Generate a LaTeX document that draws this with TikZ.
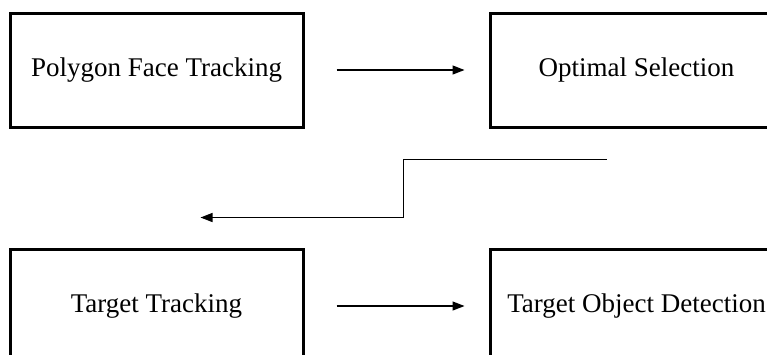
\documentclass[tikz,border=0pt]{standalone}
\usepackage{fontspec}
\setmainfont{Liberation Serif}
\usetikzlibrary{arrows.meta, positioning, calc}

\begin{document}
\begin{tikzpicture}[
    x=1pt, y=1pt,
    >={Triangle[length=12pt, width=9pt]},
    stagebox/.style={draw, line width=3pt, minimum width=293pt, minimum height=114pt,
        inner sep=0pt, font=\fontsize{27}{31}\selectfont},
    arrow/.style={->, line width=1.3pt}
]
    \clip (0,0) rectangle (767,-354);

    \node[stagebox] (face) at (156.5,-70) {Polygon Face Tracking};
    \node[stagebox, right=184pt of face] (select) {Optimal Selection};
    \node[stagebox, below=119pt of face] (track) {Target Tracking};
    \node[stagebox, right=184pt of track] (detect) {Target Object Detection\hspace{7pt}};

    % connectors
    \draw[arrow, shorten <=32pt, shorten >=24pt] (face.east) -- (select.west);
    \draw[arrow, shorten <=32pt, shorten >=24pt] (track.east) -- (detect.west);

    \coordinate (turnstart) at ($(select.south)+(-30,-31)$);
    \coordinate (turnend) at ($(track.north)+(44,30)$);
    \draw[arrow] (turnstart) -- ++(-203,0) |- (turnend);
\end{tikzpicture}
\end{document}
